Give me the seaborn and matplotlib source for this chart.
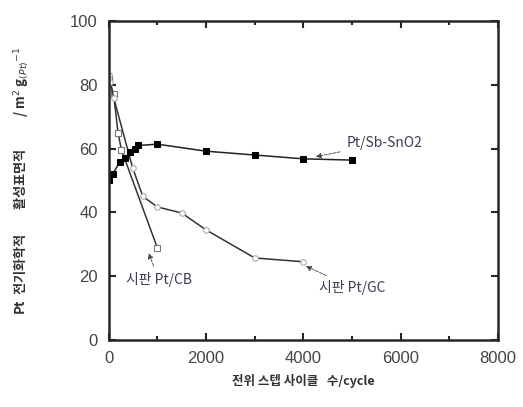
import matplotlib.pyplot as plt
import seaborn as sns
from matplotlib.ticker import MultipleLocator

sns.set_style("ticks")
plt.rcParams['font.family'] = ['Liberation Sans', 'Noto Sans CJK KR', 'DejaVu Sans']

# Pt/Sb-SnO2 (filled squares)
sno2_cycle = [0, 80, 225, 330, 430, 530, 610, 1000, 2000, 3000, 4000, 5000]
sno2_area = [50.2, 52, 55.8, 57, 59, 60, 61, 61.4, 59.2, 58, 56.8, 56.4]

# commercial Pt/CB (open squares)
cb_cycle = [0, 100, 190, 260, 1000]
cb_area = [82, 77, 65, 59.6, 28.8]

# commercial Pt/GC (open circles)
gc_cycle = [0, 30, 100, 490, 700, 1000, 1500, 2000, 3000, 4000]
gc_area = [83, 81, 76, 54, 45, 41.7, 39.8, 34.5, 25.7, 24.5]

fig = plt.figure(figsize=(5.23, 4.07), dpi=100)
ax = fig.add_axes([0.208, 0.165, 0.744, 0.783])

sns.lineplot(x=cb_cycle, y=cb_area, ax=ax, color='#333333', lw=1.1,
             marker='s', markersize=4.5, markerfacecolor='white',
             markeredgecolor='#777777', markeredgewidth=0.8)
sns.lineplot(x=gc_cycle, y=gc_area, ax=ax, color='#333333', lw=1.1,
             marker='o', markersize=4, markerfacecolor='white',
             markeredgecolor='#aaaaaa', markeredgewidth=0.8)
sns.lineplot(x=sno2_cycle, y=sno2_area, ax=ax, color='#222222', lw=1.1,
             marker='s', markersize=4.5, markerfacecolor='black',
             markeredgecolor='black')

ax.set_xlim(0, 8000)
ax.set_ylim(0, 100)
ax.xaxis.set_major_locator(MultipleLocator(2000))
ax.xaxis.set_minor_locator(MultipleLocator(1000))
ax.yaxis.set_major_locator(MultipleLocator(20))
ax.tick_params(which='both', direction='in', top=True, right=True,
               labelsize=12, labelcolor='#444444', width=1.5)
ax.tick_params(which='major', length=5, pad=8)
ax.tick_params(which='minor', length=3)
for sp in ax.spines.values():
    sp.set_linewidth(1.8)
    sp.set_visible(True)

ax.set_xlabel('전위 스텝 사이클   수/cycle', fontsize=9, fontweight='bold',
              color='#333333', labelpad=6,
              family=['Noto Sans CJK KR', 'DejaVu Sans'])
ax.set_ylabel('Pt  전기화학적        활성표면적           / m$^2$ g$_{(Pt)}$$^{-1}$',
              fontsize=9.5, fontweight='bold', color='#333333', labelpad=28,
              family=['Noto Sans CJK KR', 'DejaVu Sans'])

txt_color = '#3b3b55'
arr = dict(arrowstyle='-|>', color='#444444', lw=0.6, ls='--',
           mutation_scale=8)
ax.annotate('Pt/Sb-SnO2', xy=(4200, 57.3), xytext=(4880, 60.5),
            fontsize=10, color=txt_color, arrowprops=arr,
            family=['Noto Sans CJK KR', 'DejaVu Sans'])
ax.annotate('시판 Pt/CB', xy=(800, 28), xytext=(350, 17.5),
            fontsize=10, color=txt_color, arrowprops=arr,
            family=['Noto Sans CJK KR', 'DejaVu Sans'])
ax.annotate('시판 Pt/GC', xy=(4000, 23.5), xytext=(4320, 15),
            fontsize=10, color=txt_color, arrowprops=arr,
            family=['Noto Sans CJK KR', 'DejaVu Sans'])

fig.savefig('out.png', dpi=100)
